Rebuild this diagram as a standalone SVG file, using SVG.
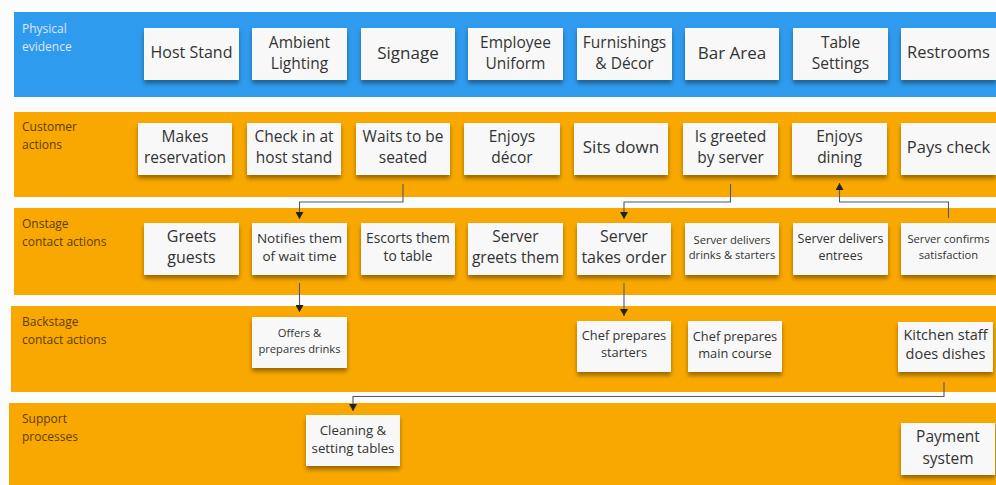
<svg xmlns="http://www.w3.org/2000/svg" width="996" height="485" viewBox="0 0 996 485">
<defs>
<filter id="sh" x="-10%" y="-10%" width="120%" height="135%">
<feDropShadow dx="0" dy="3.5" stdDeviation="2.2" flood-color="#000" flood-opacity="0.38"/>
</filter>
<marker id="ah" markerUnits="userSpaceOnUse" markerWidth="8" markerHeight="8" refX="7" refY="4" orient="auto">
<path d="M0,0 L7,4 L0,8 z" fill="#222"/>
</marker>
<style>
.blue{fill:#2f9bee}
.orng{fill:#f8a800}
.lbw{font-family:"Open Sans","Liberation Sans",sans-serif;font-size:12px;fill:#dfe6ff}
.lbo{font-family:"Open Sans","Liberation Sans",sans-serif;font-size:12px;fill:#5e3c00}
.box{fill:#f8f8f8;filter:url(#sh)}
text.t{font-family:"Open Sans","Liberation Sans",sans-serif;fill:#333;text-anchor:middle}
.conn{fill:none;stroke:#56566e;stroke-width:1.1;marker-end:url(#ah)}
</style>
</defs>
<rect x="0" y="0" width="996" height="485" fill="#fcfcfc"/>
<g id="lanes">
<rect class="blue" x="14" y="12" width="982" height="85"/>
<rect class="orng" x="14" y="112" width="982" height="85"/>
<rect class="orng" x="14" y="208" width="982" height="87"/>
<rect class="orng" x="11" y="306" width="985" height="86"/>
<rect class="orng" x="9" y="403" width="987" height="82"/>
<text class="lbw" x="22" y="33">Physical</text>
<text class="lbw" x="22" y="51">evidence</text>
<text class="lbo" x="22" y="131">Customer</text>
<text class="lbo" x="22" y="149">actions</text>
<text class="lbo" x="22" y="228">Onstage</text>
<text class="lbo" x="22" y="246">contact actions</text>
<text class="lbo" x="22" y="326">Backstage</text>
<text class="lbo" x="22" y="344">contact actions</text>
<text class="lbo" x="22" y="423">Support</text>
<text class="lbo" x="22" y="441">processes</text>
</g>
<g id="connectors">
<path class="conn" d="M403,184 V202 H299.5 V219"/>
<path class="conn" d="M299.5,283 V312"/>
<path class="conn" d="M730.5,184 V202 H624 V219"/>
<path class="conn" d="M948.5,218 V202 H839.5 V183"/>
<path class="conn" d="M624,283 V316"/>
<path class="conn" d="M944,382 V396.5 H353 V411"/>
</g>
<g id="pe-host"><rect class="box" x="144" y="28" width="95" height="52"/><text class="t" x="191.5" y="58" font-size="16">Host Stand</text></g>
<g id="pe-ambient"><rect class="box" x="252" y="28" width="95" height="52"/><text class="t" x="299.5" y="47.5" font-size="15.5">Ambient</text><text class="t" x="299.5" y="68.5" font-size="15.5">Lighting</text></g>
<g id="pe-signage"><rect class="box" x="361" y="28" width="94" height="52"/><text class="t" x="408" y="58.5" font-size="17">Signage</text></g>
<g id="pe-uniform"><rect class="box" x="468" y="28" width="95" height="52"/><text class="t" x="515.5" y="47.5" font-size="15.5">Employee</text><text class="t" x="515.5" y="68.5" font-size="15.5">Uniform</text></g>
<g id="pe-furnish"><rect class="box" x="577" y="28" width="95" height="52"/><text class="t" x="624.5" y="47.5" font-size="15.5">Furnishings</text><text class="t" x="624.5" y="68.5" font-size="15.5">&amp; Décor</text></g>
<g id="pe-bar"><rect class="box" x="685" y="28" width="94" height="52"/><text class="t" x="732" y="58.5" font-size="17">Bar Area</text></g>
<g id="pe-table"><rect class="box" x="793" y="28" width="95" height="52"/><text class="t" x="840.5" y="47.5" font-size="15.5">Table</text><text class="t" x="840.5" y="68.5" font-size="15.5">Settings</text></g>
<g id="pe-rest"><rect class="box" x="901" y="28" width="95" height="52"/><text class="t" x="948.5" y="58" font-size="16.5">Restrooms</text></g>
<g id="ca-res"><rect class="box" x="138" y="123" width="94" height="52"/><text class="t" x="185" y="141.5" font-size="15.5">Makes</text><text class="t" x="185" y="162.5" font-size="15.5">reservation</text></g>
<g id="ca-check"><rect class="box" x="247" y="123" width="94" height="52"/><text class="t" x="294" y="141.5" font-size="15.5">Check in at</text><text class="t" x="294" y="162.5" font-size="15.5">host stand</text></g>
<g id="ca-wait"><rect class="box" x="356" y="123" width="94" height="52"/><text class="t" x="403" y="141.5" font-size="15.5">Waits to be</text><text class="t" x="403" y="162.5" font-size="15.5">seated</text></g>
<g id="ca-decor"><rect class="box" x="464" y="123" width="96" height="52"/><text class="t" x="512" y="141.5" font-size="15.5">Enjoys</text><text class="t" x="512" y="162.5" font-size="15.5">décor</text></g>
<g id="ca-sits"><rect class="box" x="574" y="123" width="94" height="52"/><text class="t" x="621" y="152.5" font-size="17">Sits down</text></g>
<g id="ca-greeted"><rect class="box" x="683" y="123" width="95" height="52"/><text class="t" x="730.5" y="141.5" font-size="15.5">Is greeted</text><text class="t" x="730.5" y="162.5" font-size="15.5">by server</text></g>
<g id="ca-dining"><rect class="box" x="792" y="123" width="95" height="52"/><text class="t" x="839.5" y="141.5" font-size="15.5">Enjoys</text><text class="t" x="839.5" y="162.5" font-size="15.5">dining</text></g>
<g id="ca-pays"><rect class="box" x="901" y="123" width="95" height="52"/><text class="t" x="948.5" y="152.5" font-size="16.5">Pays check</text></g>
<g id="on-greets"><rect class="box" x="144" y="223" width="95" height="52"/><text class="t" x="191.5" y="242" font-size="16">Greets</text><text class="t" x="191.5" y="263" font-size="16">guests</text></g>
<g id="on-notifies"><rect class="box" x="252" y="223" width="95" height="52"/><text class="t" x="299.5" y="242.5" font-size="13.5">Notifies them</text><text class="t" x="299.5" y="261" font-size="13.5">of wait time</text></g>
<g id="on-escorts"><rect class="box" x="361" y="223" width="94" height="52"/><text class="t" x="408" y="242.5" font-size="13.8">Escorts them</text><text class="t" x="408" y="261" font-size="13.8">to table</text></g>
<g id="on-sgreets"><rect class="box" x="468" y="223" width="95" height="52"/><text class="t" x="515.5" y="242" font-size="15.5">Server</text><text class="t" x="515.5" y="263" font-size="15.5">greets them</text></g>
<g id="on-order"><rect class="box" x="577" y="223" width="94" height="52"/><text class="t" x="624" y="242" font-size="16">Server</text><text class="t" x="624" y="263" font-size="16">takes order</text></g>
<g id="on-drinks"><rect class="box" x="685" y="223" width="94" height="52"/><text class="t" x="732" y="244" font-size="11.2">Server delivers</text><text class="t" x="732" y="258.5" font-size="11.2">drinks &amp; starters</text></g>
<g id="on-entrees"><rect class="box" x="793" y="223" width="95" height="52"/><text class="t" x="840.5" y="242.8" font-size="12.5">Server delivers</text><text class="t" x="840.5" y="260" font-size="12.5">entrees</text></g>
<g id="on-confirms"><rect class="box" x="901" y="223" width="95" height="52"/><text class="t" x="948.5" y="243" font-size="11.2">Server confirms</text><text class="t" x="948.5" y="259" font-size="11.2">satisfaction</text></g>
<g id="bs-drinks"><rect class="box" x="252" y="317" width="95" height="51"/><text class="t" x="299.5" y="336.5" font-size="11.2">Offers &amp;</text><text class="t" x="299.5" y="352.5" font-size="11.2">prepares drinks</text></g>
<g id="bs-starters"><rect class="box" x="577" y="321" width="94" height="51"/><text class="t" x="624" y="339.7" font-size="12.8">Chef prepares</text><text class="t" x="624" y="357.4" font-size="12.8">starters</text></g>
<g id="bs-main"><rect class="box" x="688" y="321" width="94" height="51"/><text class="t" x="735" y="340.5" font-size="12.8">Chef prepares</text><text class="t" x="735" y="358" font-size="12.8">main course</text></g>
<g id="bs-kitchen"><rect class="box" x="898" y="322" width="95" height="50"/><text class="t" x="945.5" y="339.5" font-size="14.5">Kitchen staff</text><text class="t" x="945.5" y="358.5" font-size="14.5">does dishes</text></g>
<g id="sp-cleaning"><rect class="box" x="306" y="415" width="94" height="51"/><text class="t" x="353" y="435" font-size="13.3">Cleaning &amp;</text><text class="t" x="353" y="453" font-size="13.3">setting tables</text></g>
<g id="sp-payment"><rect class="box" x="901" y="423" width="94" height="52"/><text class="t" x="948" y="442" font-size="15.5">Payment</text><text class="t" x="948" y="464" font-size="15.5">system</text></g>
</svg>
